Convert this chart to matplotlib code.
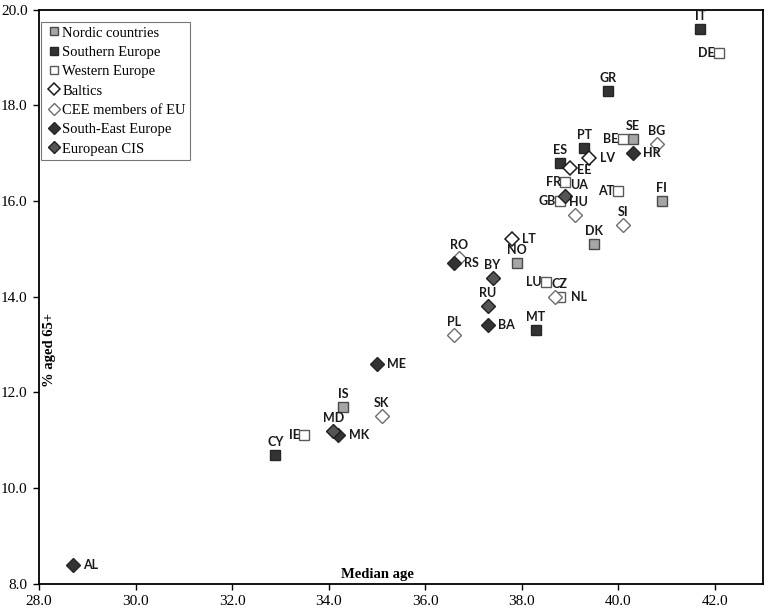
import matplotlib
matplotlib.use("Agg")
import matplotlib.pyplot as plt

# ---- data ----
codes = ["IT", "DE", "GR", "SE", "BE", "BG", "HR", "PT", "LV", "ES", "EE", "FR",
         "UA", "GB", "HU", "AT", "FI", "SI", "DK", "LU", "CZ", "NL", "LT", "RO",
         "RS", "NO", "BY", "RU", "BA", "MT", "PL", "ME", "IS", "SK", "MD", "MK",
         "IE", "CY", "AL"]
median_age = [41.7, 42.1, 39.8, 40.3, 40.1, 40.8, 40.3, 39.3, 39.4, 38.8, 39.0, 38.9,
              38.9, 38.8, 39.1, 40.0, 40.9, 40.1, 39.5, 38.5, 38.7, 38.8, 37.8, 36.7,
              36.6, 37.9, 37.4, 37.3, 37.3, 38.3, 36.6, 35.0, 34.3, 35.1, 34.1, 34.2,
              33.5, 32.9, 28.7]
pct_65 = [19.6, 19.1, 18.3, 17.3, 17.3, 17.2, 17.0, 17.1, 16.9, 16.8, 16.7, 16.4,
          16.1, 16.0, 15.7, 16.2, 16.0, 15.5, 15.1, 14.3, 14.0, 14.0, 15.2, 14.8,
          14.7, 14.7, 14.4, 13.8, 13.4, 13.3, 13.2, 12.6, 11.7, 11.5, 11.2, 11.1,
          11.1, 10.7, 8.4]
group = ["Southern Europe", "Western Europe", "Southern Europe", "Nordic countries",
         "Western Europe", "CEE members of EU", "South-East Europe", "Southern Europe",
         "Baltics", "Southern Europe", "Baltics", "Western Europe",
         "European CIS", "Western Europe", "CEE members of EU", "Western Europe",
         "Nordic countries", "CEE members of EU", "Nordic countries", "Western Europe",
         "CEE members of EU", "Western Europe", "Baltics", "CEE members of EU",
         "South-East Europe", "Nordic countries", "European CIS", "European CIS",
         "South-East Europe", "Southern Europe", "CEE members of EU", "South-East Europe",
         "Nordic countries", "CEE members of EU", "European CIS", "South-East Europe",
         "Western Europe", "Southern Europe", "South-East Europe"]
groups = ["Nordic countries", "Southern Europe", "Western Europe", "Baltics",
          "CEE members of EU", "South-East Europe", "European CIS"]
x_ticks = [28.0, 30.0, 32.0, 34.0, 36.0, 38.0, 40.0, 42.0]
y_ticks = [8.0, 10.0, 12.0, 14.0, 16.0, 18.0, 20.0]

# ---- styles ----
styles = {
    "Nordic countries": dict(marker="s", ms=7.3, mfc="#a6a6a6", mec="#4a4a4a", mew=1.0),
    "Southern Europe": dict(marker="s", ms=7.3, mfc="#333333", mec="#262626", mew=1.0),
    "Western Europe": dict(marker="s", ms=7.3, mfc="white", mec="#5a5a5a", mew=1.0),
    "Baltics": dict(marker="D", ms=7.6, mfc="white", mec="#1a1a1a", mew=1.1),
    "CEE members of EU": dict(marker="D", ms=7.3, mfc="white", mec="#6e6e6e", mew=1.0),
    "South-East Europe": dict(marker="D", ms=7.3, mfc="#333333", mec="#262626", mew=1.0),
    "European CIS": dict(marker="D", ms=7.3, mfc="#555555", mec="#1f1f1f", mew=1.0),
}
label_pos = {
    "IT": "above", "DE": "left", "GR": "above", "SE": "above", "BE": "left",
    "BG": "above", "HR": "right", "PT": "above", "LV": "right", "ES": "above",
    "EE": "rightlow", "FR": "left", "UA": "aboveright", "GB": "left",
    "HU": "abovesr", "AT": "left", "FI": "above", "SI": "above", "DK": "above",
    "LU": "left", "CZ": "abovesr", "NL": "right", "LT": "right", "RO": "above",
    "RS": "right", "NO": "above", "BY": "above", "RU": "above", "BA": "right",
    "MT": "above", "PL": "above", "ME": "right", "IS": "above", "SK": "above",
    "MD": "above", "MK": "right", "IE": "left", "CY": "above", "AL": "right",
}
offsets = {
    "above": ((0, 5.0), "center", "bottom"),
    "left": ((-3.0, 0), "right", "center"),
    "right": ((7.5, 0), "left", "center"),
    "rightlow": ((5.5, -1.5), "left", "center"),
    "aboveright": ((3.5, 3.5), "left", "bottom"),
    "abovesr": ((3, 5.0), "center", "bottom"),
}

fig = plt.figure(figsize=(7.69, 6.12), dpi=100)
ax = fig.add_axes([0.0507, 0.0462, 0.9413, 0.938])

for g in groups:
    xs = [x for x, gg in zip(median_age, group) if gg == g]
    ys = [y for y, gg in zip(pct_65, group) if gg == g]
    ax.plot(xs, ys, linestyle="none", label=g, zorder=3, **styles[g])

for c, x, y in zip(codes, median_age, pct_65):
    (dx, dy), ha, va = offsets[label_pos[c]]
    ax.annotate(c, (x, y), xytext=(dx, dy), textcoords="offset points",
                ha=ha, va=va, fontsize=9, fontweight="bold",
                family="Lato", color="#1a1a1a", zorder=4)

ax.set_xlim(28, 43)
ax.set_ylim(8, 20)
ax.set_xticks(x_ticks)
ax.set_yticks(y_ticks)
ax.set_xticklabels([f"{v:.1f}" for v in x_ticks])
ax.set_yticklabels([f"{v:.1f}" for v in y_ticks])
for lab in ax.get_xticklabels() + ax.get_yticklabels():
    lab.set_fontfamily("Liberation Serif")
    lab.set_fontsize(11)
ax.tick_params(direction="out", length=4.2, width=1, top=False, right=False, pad=4)
for s in ax.spines.values():
    s.set_linewidth(1.3)
    s.set_color("black")

ax.text(0.467, 0.016, "Median age", transform=ax.transAxes, ha="center", va="center",
        family="Liberation Serif", fontweight="bold", fontsize=10.5)
ax.text(0.015, 0.407, "% aged 65+", transform=ax.transAxes, ha="center", va="center",
        rotation=90, family="Liberation Serif", fontweight="bold", fontsize=10.5)

leg = ax.legend(loc="upper left", bbox_to_anchor=(0.003, 0.9786), frameon=True,
                fancybox=False, prop=dict(family="Liberation Serif", size=10.5),
                handlelength=1.1, handletextpad=0.05, borderpad=0.3, labelspacing=0.42,
                markerscale=0.8, borderaxespad=0.0)
leg.get_frame().set_edgecolor("#555555")
leg.get_frame().set_linewidth(0.8)

fig.savefig("out.png", dpi=100)
